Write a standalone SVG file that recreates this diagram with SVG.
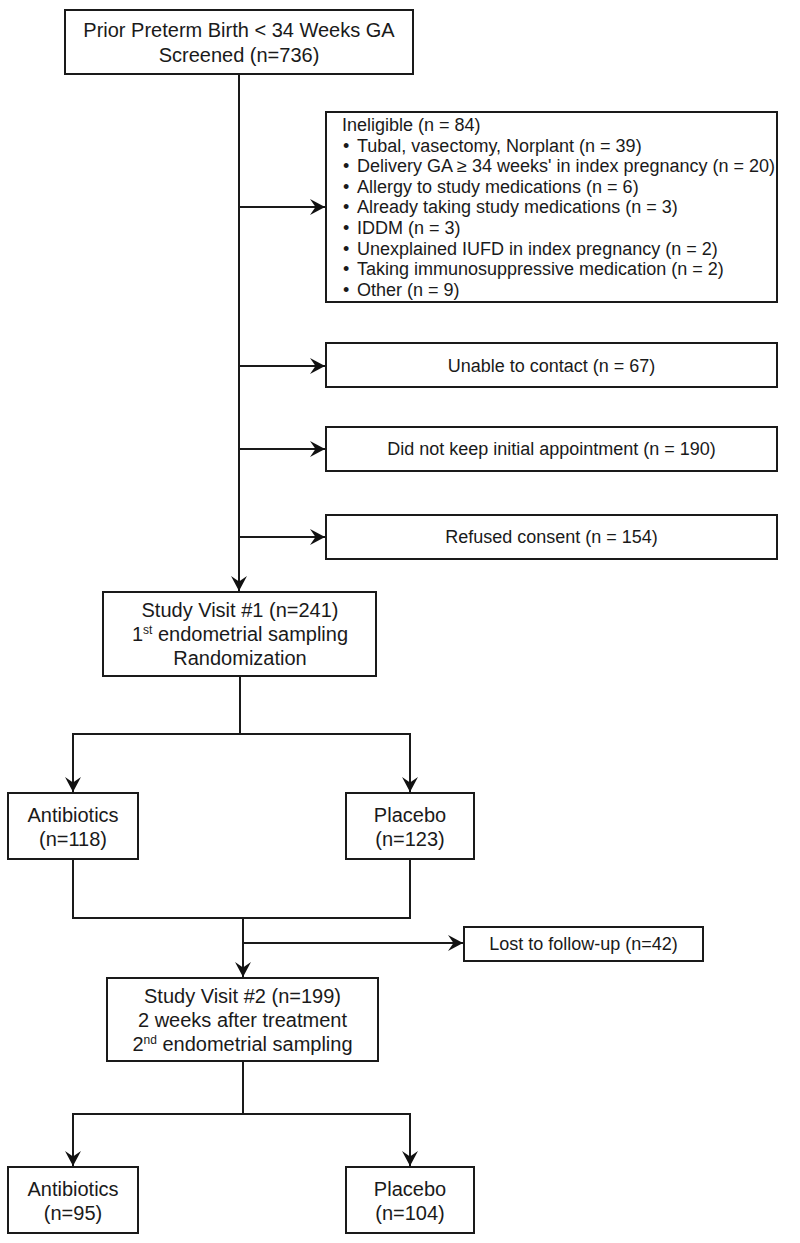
<svg xmlns="http://www.w3.org/2000/svg" width="800" height="1243" viewBox="0 0 800 1243">
<defs>
<marker id="arr" markerUnits="userSpaceOnUse" markerWidth="18" markerHeight="18" viewBox="-16 -9 18 18" refX="0" refY="0" orient="auto">
<path d="M0,0 L-15,-8 L-9.5,0 L-15,8 Z" fill="#111"/>
</marker>
</defs>
<style>
.box{fill:#fff;stroke:#1a1a1a;stroke-width:2}
.ln{fill:none;stroke:#1a1a1a;stroke-width:2}
text{font-family:"Liberation Sans",Arial,sans-serif;fill:#1a1a1a}
.c20{font-size:20px;text-anchor:middle}
.c18{font-size:18px;text-anchor:middle}
.l18{font-size:18px}
.sup{font-size:12px}
</style>
<rect width="800" height="1243" fill="#fff"/>
<g id="connectors">
<path class="ln" d="M239,74 V591"/>
<path class="ln" d="M239,207 H325" marker-end="url(#arr)"/>
<path class="ln" d="M239,366 H325" marker-end="url(#arr)"/>
<path class="ln" d="M239,449 H325" marker-end="url(#arr)"/>
<path class="ln" d="M239,537 H325" marker-end="url(#arr)"/>
<path class="ln" d="M239,580 V591" marker-end="url(#arr)"/>
<path class="ln" d="M240,676 V734 M73,734 H410"/>
<path class="ln" d="M73,733 V792" marker-end="url(#arr)"/>
<path class="ln" d="M410,733 V792" marker-end="url(#arr)"/>
<path class="ln" d="M73,859 V918 H410 V859"/>
<path class="ln" d="M243,918 V977" marker-end="url(#arr)"/>
<path class="ln" d="M243,943 H463" marker-end="url(#arr)"/>
<path class="ln" d="M243,1061 V1114 M73,1114 H410"/>
<path class="ln" d="M73,1113 V1166" marker-end="url(#arr)"/>
<path class="ln" d="M410,1113 V1166" marker-end="url(#arr)"/>
</g>
<g id="screened">
<rect class="box" x="65" y="10" width="348" height="64"/>
<text class="c20" x="239" y="37">Prior Preterm Birth &lt; 34 Weeks GA</text>
<text class="c20" x="239" y="62">Screened (n=736)</text>
</g>
<g id="ineligible">
<rect class="box" x="326" y="112" width="451" height="190"/>
<g class="l18">
<text x="342" y="131">Ineligible (n = 84)</text>
<text x="343" y="151.6">•</text><text x="357" y="151.6">Tubal, vasectomy, Norplant (n = 39)</text>
<text x="343" y="172.2">•</text><text x="357" y="172.2">Delivery GA ≥ 34 weeks' in index pregnancy (n = 20)</text>
<text x="343" y="192.8">•</text><text x="357" y="192.8">Allergy to study medications (n = 6)</text>
<text x="343" y="213.4">•</text><text x="357" y="213.4">Already taking study medications (n = 3)</text>
<text x="343" y="234">•</text><text x="357" y="234">IDDM (n = 3)</text>
<text x="343" y="254.6">•</text><text x="357" y="254.6">Unexplained IUFD in index pregnancy (n = 2)</text>
<text x="343" y="275.2">•</text><text x="357" y="275.2">Taking immunosuppressive medication (n = 2)</text>
<text x="343" y="295.8">•</text><text x="357" y="295.8">Other (n = 9)</text>
</g>
</g>
<g id="unable">
<rect class="box" x="326" y="343" width="451" height="44"/>
<text class="c18" x="551.5" y="372">Unable to contact (n = 67)</text>
</g>
<g id="noappt">
<rect class="box" x="326" y="427" width="451" height="44"/>
<text class="c18" x="551.5" y="455">Did not keep initial appointment (n = 190)</text>
</g>
<g id="refused">
<rect class="box" x="326" y="515" width="451" height="44"/>
<text class="c18" x="551.5" y="543">Refused consent (n = 154)</text>
</g>
<g id="visit1">
<rect class="box" x="103" y="592" width="273" height="84"/>
<text class="c20" x="240" y="617">Study Visit #1 (n=241)</text>
<text class="c20" x="240" y="641">1<tspan class="sup" dy="-7">st</tspan><tspan dy="7"> endometrial sampling</tspan></text>
<text class="c20" x="240" y="665">Randomization</text>
</g>
<g id="abx1">
<rect class="box" x="8" y="793" width="130" height="66"/>
<text class="c20" x="73" y="822">Antibiotics</text>
<text class="c20" x="73" y="846">(n=118)</text>
</g>
<g id="pbo1">
<rect class="box" x="346" y="793" width="128" height="66"/>
<text class="c20" x="410" y="822">Placebo</text>
<text class="c20" x="410" y="846">(n=123)</text>
</g>
<g id="lost">
<rect class="box" x="464" y="927" width="239" height="34"/>
<text class="c18" x="583.5" y="950">Lost to follow-up (n=42)</text>
</g>
<g id="visit2">
<rect class="box" x="107" y="978" width="271" height="83"/>
<text class="c20" x="242.5" y="1003">Study Visit #2 (n=199)</text>
<text class="c20" x="242.5" y="1027">2 weeks after treatment</text>
<text class="c20" x="242.5" y="1051">2<tspan class="sup" dy="-7">nd</tspan><tspan dy="7"> endometrial sampling</tspan></text>
</g>
<g id="abx2">
<rect class="box" x="8" y="1167" width="130" height="66"/>
<text class="c20" x="73" y="1196">Antibiotics</text>
<text class="c20" x="73" y="1220">(n=95)</text>
</g>
<g id="pbo2">
<rect class="box" x="346" y="1167" width="128" height="66"/>
<text class="c20" x="410" y="1196">Placebo</text>
<text class="c20" x="410" y="1220">(n=104)</text>
</g>
</svg>
